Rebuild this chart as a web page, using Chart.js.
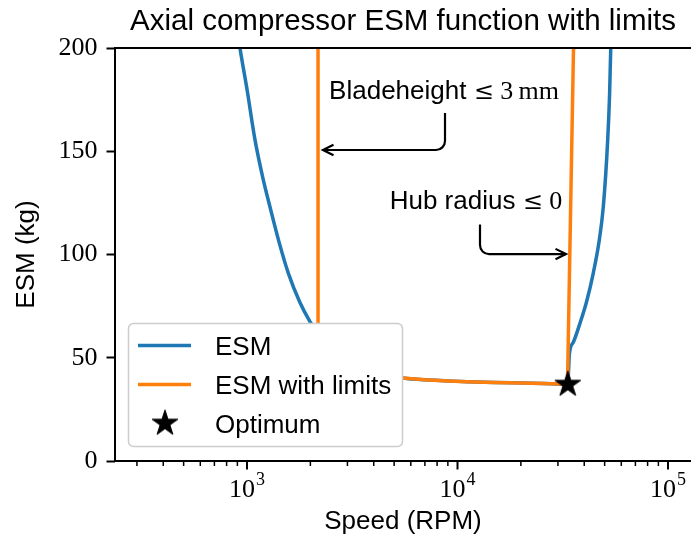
<!DOCTYPE html>
<html>
<head>
<meta charset="utf-8">
<title>Axial compressor ESM function with limits</title>
<script src="https://cdn.jsdelivr.net/npm/chart.js@4.4.1/dist/chart.umd.min.js"></script>
<style>
  html, body { margin: 0; padding: 0; background: #fff; }
  #chart { display: block; }
</style>
</head>
<body>
<canvas id="chart" width="691" height="542"></canvas>
<script>
// values: speed in RPM, ESM in kg
var esmSpeed = [880, 926, 1000, 1092, 1190, 1286, 1420, 1571, 1780, 1991, 2175, 2500, 3000, 3500, 4200, 5508, 7000, 9000, 11090, 15000, 22840, 28000, 33300, 33700, 33960, 35500, 38180, 41000, 44140, 47000, 49270, 51700, 52800, 53430, 53800];
var esmMass = [216, 200, 180, 155.4, 137, 123, 106, 91, 77, 67.5, 61.5, 54, 48, 44.5, 42.3, 40.2, 39.3, 38.8, 38.4, 38, 37.7, 37.4, 37.2, 44, 51.3, 57.5, 66.7, 77, 90.9, 106, 123.1, 155.4, 178, 199, 215];

var limSpeed = [2175, 2175, 2500, 3000, 3500, 4200, 5508, 7000, 9000, 11090, 15000, 22840, 28000, 33300, 35570, 35650];
var limMass = [215, 61.5, 54, 48, 44.5, 42.3, 40.2, 39.3, 38.8, 38.4, 38, 37.7, 37.4, 37.2, 200, 210];

var optSpeed = [33400];
var optMass = [37.5];

var seriesLabels = ["ESM", "ESM with limits", "Optimum"];
var yTicks = [0, 50, 100, 150, 200];
var xMajorTicks = [1e3, 1e4, 1e5];
var xMajorExp = ["3", "4", "5"];
var xMinorTicks = [300, 400, 500, 600, 700, 800, 900,
    2000, 3000, 4000, 5000, 6000, 7000, 8000, 9000,
    20000, 30000, 40000, 50000, 60000, 70000, 80000, 90000];

// annotations (data coordinates)
var bladeText = { x: 8628, y: 175.3 };
var bladeArrow = { x: 8722, y: 168.5, tipX: 2296, tipY: 150.6 };
var hubText = { x: 12240, y: 122 };
var hubArrow = { x: 12790, y: 114.5, tipX: 32770, tipY: 100.2 };

var SANS = '"Liberation Sans", Arial, sans-serif';
var SERIF = '"Liberation Serif", "DejaVu Serif", serif';
var MATH = '"DejaVu Serif", serif';
var BLUE = "#1f77b4";
var ORANGE = "#ff7f0e";

function toPoints(xs, ys) {
    var pts = [];
    for (var i = 0; i < xs.length; i++) pts.push({ x: xs[i], y: ys[i] });
    return pts;
}

function drawStar(ctx, cx, cy, r) {
    var ri = r * 0.381966;
    ctx.beginPath();
    for (var i = 0; i < 10; i++) {
        var rad = (i % 2 === 0) ? r : ri;
        var a = -Math.PI / 2 + i * Math.PI / 5;
        var px = cx + rad * Math.cos(a), py = cy + rad * Math.sin(a);
        if (i === 0) ctx.moveTo(px, py); else ctx.lineTo(px, py);
    }
    ctx.closePath();
    ctx.fillStyle = "#000";
    ctx.fill();
    ctx.lineWidth = 1;
    ctx.strokeStyle = "#000";
    ctx.stroke();
}

var starImg = document.createElement("canvas");
starImg.width = 32;
starImg.height = 32;
drawStar(starImg.getContext("2d"), 16, 17, 13.5);

function drawRuns(ctx, runs, cx, baseline) {
    var total = 0;
    runs.forEach(function(r) { ctx.font = r.font; r.w = ctx.measureText(r.text).width; total += r.w; });
    var x = cx - total / 2;
    ctx.textAlign = "left";
    ctx.textBaseline = "alphabetic";
    runs.forEach(function(r) { ctx.font = r.font; ctx.fillText(r.text, x, baseline); x += r.w; });
}

function drawElbowArrow(ctx, sx, sy, tx, ty) {
    var dir = tx < sx ? -1 : 1;
    ctx.beginPath();
    ctx.moveTo(sx, sy);
    ctx.arcTo(sx, ty, tx, ty, 9);
    ctx.lineTo(tx, ty);
    ctx.stroke();
    ctx.beginPath();
    ctx.moveTo(tx - dir * 10.5, ty - 5.2);
    ctx.lineTo(tx, ty);
    ctx.lineTo(tx - dir * 10.5, ty + 5.2);
    ctx.stroke();
}

var decor = {
    id: "decor",
    afterDatasetsDraw: function(chart) {
        var ctx = chart.ctx, area = chart.chartArea;
        var xs = chart.scales.x, ys = chart.scales.y;
        ctx.save();

        // spines (left, bottom, top)
        ctx.strokeStyle = "#000";
        ctx.lineWidth = 2;
        ctx.beginPath();
        ctx.moveTo(area.right + 2, area.top);
        ctx.lineTo(area.left, area.top);
        ctx.lineTo(area.left, area.bottom);
        ctx.lineTo(area.right + 2, area.bottom);
        ctx.stroke();

        // x ticks
        xMinorTicks.forEach(function(v) {
            var px = xs.getPixelForValue(v);
            ctx.lineWidth = 1.5;
            ctx.beginPath(); ctx.moveTo(px, area.bottom); ctx.lineTo(px, area.bottom + 5); ctx.stroke();
        });
        xMajorTicks.forEach(function(v, i) {
            var px = xs.getPixelForValue(v);
            ctx.lineWidth = 2;
            ctx.beginPath(); ctx.moveTo(px, area.bottom); ctx.lineTo(px, area.bottom + 8.5); ctx.stroke();
            ctx.fillStyle = "#000";
            ctx.font = "26px " + SERIF;
            var w10 = ctx.measureText("10").width;
            ctx.font = "18px " + SERIF;
            var we = ctx.measureText(xMajorExp[i]).width;
            var left = px - (w10 + we + 1) / 2;
            ctx.textAlign = "left";
            ctx.textBaseline = "alphabetic";
            ctx.font = "26px " + SERIF;
            ctx.fillText("10", left, 497);
            ctx.font = "18px " + SERIF;
            ctx.fillText(xMajorExp[i], left + w10 + 1, 485);
        });

        // title
        ctx.fillStyle = "#000";
        ctx.font = "29.5px " + SANS;
        ctx.textAlign = "center";
        ctx.textBaseline = "alphabetic";
        ctx.fillText("Axial compressor ESM function with limits", (area.left + area.right) / 2, 30);

        // annotations
        drawRuns(ctx, [
            { text: "Bladeheight ", font: "26px " + SANS },
            { text: "\u2264", font: "24px " + MATH },
            { text: " 3", font: "26px " + SERIF },
            { text: "\u2009mm", font: "26px " + SERIF }
        ], xs.getPixelForValue(bladeText.x), ys.getPixelForValue(bladeText.y));
        drawRuns(ctx, [
            { text: "Hub radius ", font: "26px " + SANS },
            { text: "\u2264", font: "24px " + MATH },
            { text: " 0", font: "26px " + SERIF }
        ], xs.getPixelForValue(hubText.x), ys.getPixelForValue(hubText.y));
        ctx.strokeStyle = "#000";
        ctx.lineWidth = 2.2;
        ctx.lineJoin = "miter";
        drawElbowArrow(ctx, xs.getPixelForValue(bladeArrow.x), ys.getPixelForValue(bladeArrow.y),
            xs.getPixelForValue(bladeArrow.tipX), ys.getPixelForValue(bladeArrow.tipY));
        drawElbowArrow(ctx, xs.getPixelForValue(hubArrow.x), ys.getPixelForValue(hubArrow.y),
            xs.getPixelForValue(hubArrow.tipX), ys.getPixelForValue(hubArrow.tipY));

        // legend
        ctx.beginPath();
        ctx.roundRect(128.5, 323.5, 274, 123, 5);
        ctx.fillStyle = "#ffffff";
        ctx.fill();
        ctx.strokeStyle = "#cccccc";
        ctx.lineWidth = 1.5;
        ctx.stroke();
        chart.data.datasets.forEach(function(ds, i) {
            var rowY = 345.5 + i * 39;
            if (ds.showLine !== false) {
                ctx.strokeStyle = ds.borderColor;
                ctx.lineWidth = 3.5;
                ctx.beginPath(); ctx.moveTo(138, rowY); ctx.lineTo(191, rowY); ctx.stroke();
            } else {
                ctx.drawImage(starImg, 165 - 16, rowY - 17);
            }
            ctx.fillStyle = "#000";
            ctx.font = "26px " + SANS;
            ctx.textAlign = "left";
            ctx.textBaseline = "alphabetic";
            ctx.fillText(ds.label, 215, rowY + 9.5);
        });
        ctx.restore();
    }
};

new Chart(document.getElementById("chart"), {
    type: "line",
    data: {
        datasets: [{
            label: seriesLabels[0],
            data: toPoints(esmSpeed, esmMass),
            borderColor: BLUE,
            borderWidth: 3.5,
            pointRadius: 0,
            cubicInterpolationMode: "monotone",
            clip: 0,
            order: 3
        }, {
            label: seriesLabels[1],
            data: toPoints(limSpeed, limMass),
            borderColor: ORANGE,
            borderWidth: 3.5,
            pointRadius: 0,
            tension: 0,
            clip: 0,
            order: 2
        }, {
            label: seriesLabels[2],
            data: toPoints(optSpeed, optMass),
            showLine: false,
            pointStyle: starImg,
            pointRadius: 14,
            borderColor: "#000",
            backgroundColor: "#000",
            clip: false,
            order: 1
        }]
    },
    options: {
        responsive: false,
        animation: false,
        events: [],
        layout: { autoPadding: false, padding: { top: 48, left: 0, right: 0, bottom: 0 } },
        plugins: {
            legend: { display: false },
            title: { display: false },
            tooltip: { enabled: false }
        },
        scales: {
            x: {
                type: "logarithmic",
                min: 236,
                max: 128600,
                ticks: { display: false },
                grid: { display: false },
                border: { display: false },
                title: {
                    display: true,
                    text: "Speed (RPM)",
                    color: "#000",
                    font: { family: SANS, size: 26 },
                    padding: { top: 0, bottom: 5 }
                },
                afterFit: function(scale) {
                    scale.height = 81;
                    scale.paddingLeft = 0;
                    scale.paddingRight = 0;
                }
            },
            y: {
                min: 0,
                max: 200,
                afterBuildTicks: function(scale) {
                    scale.ticks = yTicks.map(function(v) { return { value: v }; });
                },
                ticks: {
                    color: "#000",
                    font: { family: SERIF, size: 26 },
                    padding: 9
                },
                grid: {
                    drawOnChartArea: false,
                    drawTicks: true,
                    tickLength: 8.5,
                    tickWidth: 2,
                    tickColor: "#000"
                },
                border: { display: false },
                title: {
                    display: true,
                    text: "ESM (kg)",
                    color: "#000",
                    font: { family: SANS, size: 26 },
                    padding: { top: 11, bottom: 0 }
                },
                afterFit: function(scale) {
                    scale.width = 115;
                    scale.paddingTop = 0;
                    scale.paddingBottom = 0;
                }
            }
        }
    },
    plugins: [decor]
});
</script>
</body>
</html>
